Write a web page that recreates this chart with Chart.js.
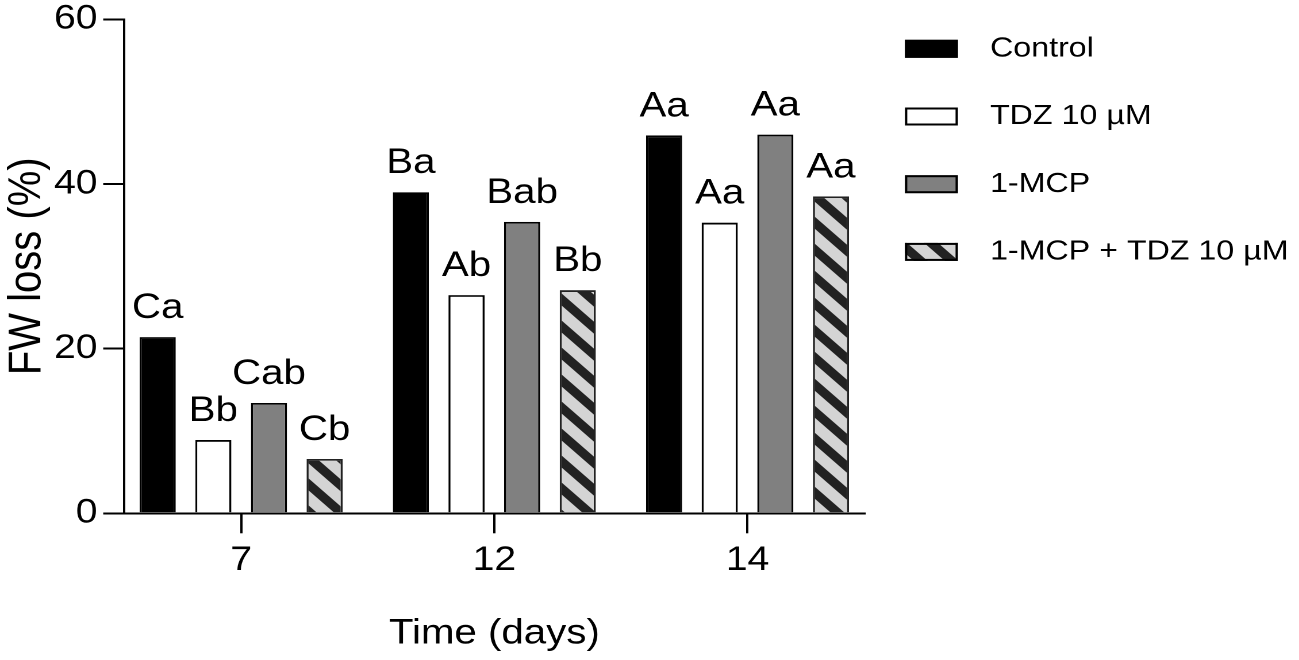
<!DOCTYPE html>
<html>
<head>
<meta charset="utf-8">
<title>FW loss</title>
<script src="https://cdn.jsdelivr.net/npm/chart.js@4.4.1/dist/chart.umd.min.js"></script>
<style>
  html, body { margin: 0; padding: 0; background: #fff; overflow: hidden; }
  /* the reference figure is drawn wider than tall, so the chart is stretched on x */
  #wrap {
    position: absolute; left: 0; top: 0;
    width: 1130px; height: 660px;
    transform: scaleX(1.1496); transform-origin: 0 0;
  }
</style>
</head>
<body>
<div id="wrap"><canvas id="chart"></canvas></div>
<script>
const days = ['7', '12', '14'];
const treatments = ['Control', 'TDZ 10 µM', '1-MCP', '1-MCP + TDZ 10 µM'];

const control = [21.4, 39.0, 45.9];
const tdz = [8.9, 26.5, 35.3];
const mcp = [13.4, 35.4, 46.0];
const mcpTdz = [6.6, 27.1, 38.5];

const controlLetters = ['Ca', 'Ba', 'Aa'];
const tdzLetters = ['Bb', 'Ab', 'Aa'];
const mcpLetters = ['Cab', 'Bab', 'Aa'];
const mcpTdzLetters = ['Cb', 'Bb', 'Aa'];

const yTicks = [0, 20, 40, 60];

const FONT = "'Liberation Sans', Arial, Helvetica, sans-serif";
Chart.defaults.font.family = FONT;
Chart.defaults.color = '#000';

const canvas = document.getElementById('chart');

// grey with dark "\" stripes, built at 2x so it stays sharp
const makeStripes = () => {
  const size = 27;
  const k = 2;
  const c = document.createElement('canvas');
  c.width = c.height = size * k;
  const g = c.getContext('2d');
  g.scale(k, k);
  g.fillStyle = '#d4d4d4';
  g.fillRect(0, 0, size, size);
  g.strokeStyle = '#222';
  g.lineWidth = 8.5;
  for (let i = -1; i <= 1; i++) {
    g.beginPath();
    g.moveTo(-size, -size + i * size);
    g.lineTo(2 * size, 2 * size + i * size);
    g.stroke();
  }
  const pattern = canvas.getContext('2d').createPattern(c, 'repeat');
  pattern.setTransform(new DOMMatrix().scale(1 / k));
  return pattern;
};

const letters = [controlLetters, tdzLetters, mcpLetters, mcpTdzLetters];

const toPoints = (values) => values.map((v, i) => ({x: i, y: v}));

const letterLabels = {
  id: 'letterLabels',
  afterDatasetsDraw(chart) {
    const {ctx} = chart;
    ctx.save();
    ctx.font = '35px ' + FONT;
    ctx.textAlign = 'center';
    ctx.textBaseline = 'alphabetic';
    ctx.fillStyle = '#000';
    chart.data.datasets.forEach((ds, i) => {
      chart.getDatasetMeta(i).data.forEach((bar, j) => {
        ctx.fillText(letters[i][j], bar.x, bar.y - 19);
      });
    });
    ctx.restore();
  },
};

const sideLegend = {
  id: 'sideLegend',
  afterDraw(chart) {
    const {ctx, chartArea} = chart;
    ctx.save();
    ctx.font = '28px ' + FONT;
    ctx.textBaseline = 'middle';
    ctx.textAlign = 'left';
    chart.data.datasets.forEach((ds, i) => {
      const y = chartArea.top + 29.5 + i * 67.7;
      const x = chartArea.right + 35;
      ctx.fillStyle = ds.backgroundColor;
      ctx.fillRect(x, y - 9, 46, 18);
      ctx.lineWidth = 2;
      ctx.strokeStyle = '#000';
      ctx.strokeRect(x + 1, y - 8, 44, 16);
      ctx.fillStyle = '#000';
      ctx.fillText(ds.label, chartArea.right + 109, y);
    });
    ctx.restore();
  },
};

const barStyle = {
  borderColor: '#000',
  borderWidth: 1.8,
  barPercentage: 0.649,
  categoryPercentage: 0.879,
};

new Chart(canvas, {
  type: 'bar',
  data: {
    datasets: [
      {label: treatments[0], data: toPoints(control), backgroundColor: '#000', ...barStyle},
      {label: treatments[1], data: toPoints(tdz), backgroundColor: '#fff', ...barStyle},
      {label: treatments[2], data: toPoints(mcp), backgroundColor: '#808080', ...barStyle},
      {label: treatments[3], data: toPoints(mcpTdz), backgroundColor: makeStripes(), ...barStyle, borderColor: '#222'},
    ],
  },
  options: {
    responsive: true,
    maintainAspectRatio: false,
    devicePixelRatio: 2,
    animation: false,
    layout: {
      padding: {top: 19.3, right: 377.8, bottom: 0, left: 0},
    },
    plugins: {
      legend: {display: false},
      tooltip: {enabled: false},
    },
    scales: {
      x: {
        type: 'linear',
        min: -0.463,
        max: 2.463,
        offset: false,
        afterBuildTicks: (scale) => {
          scale.ticks = days.map((d, i) => ({value: i}));
        },
        afterFit: (scale) => {
          scale.height = 146.7;
        },
        ticks: {
          callback: (v) => days[v],
          font: {size: 34},
          padding: 7,
          maxRotation: 0,
          autoSkip: false,
        },
        grid: {
          offset: false,
          drawOnChartArea: false,
          tickLength: 20,
          color: '#000',
          lineWidth: 2,
        },
        border: {display: true, color: '#000', width: 2},
        title: {
          display: true,
          text: 'Time (days)',
          font: {size: 35},
          padding: {top: 0, bottom: 5},
        },
      },
      y: {
        min: 0,
        max: 60,
        afterBuildTicks: (scale) => {
          scale.ticks = yTicks.map((v) => ({value: v}));
        },
        afterFit: (scale) => {
          scale.width = 107.8;
          // the top label may hang above the plot, as in the reference
          scale.paddingTop = 0;
          scale.paddingBottom = 0;
        },
        ticks: {
          font: {size: 34},
          padding: 5,
        },
        grid: {
          drawOnChartArea: false,
          tickLength: 18,
          color: '#000',
          lineWidth: 2,
        },
        border: {display: true, color: '#000', width: 2},
        title: {
          display: true,
          text: 'FW loss (%)',
          font: {size: 40},
          padding: {top: 0, bottom: 0},
        },
      },
    },
  },
  plugins: [letterLabels, sideLegend],
});
</script>
</body>
</html>
